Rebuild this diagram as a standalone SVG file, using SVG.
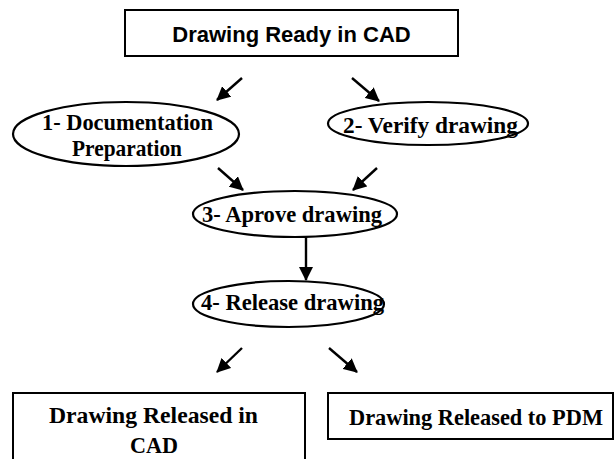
<svg xmlns="http://www.w3.org/2000/svg" width="615" height="459" viewBox="0 0 615 459">
  <style>
    .box { fill: #ffffff; stroke: #000000; stroke-width: 2; }
    .oval { fill: #ffffff; stroke: #000000; stroke-width: 2.2; }
    .sans { font-family: "Liberation Sans", Arial, sans-serif; font-weight: bold; font-size: 22px; fill: #000000; text-anchor: middle; }
    .serif { font-family: "Liberation Serif", "Times New Roman", serif; font-weight: bold; font-size: 23px; fill: #000000; text-anchor: middle; }
    .link { stroke: #000000; stroke-width: 2.4; fill: none; marker-end: url(#head); }
  </style>
  <defs>
    <marker id="head" markerUnits="userSpaceOnUse" markerWidth="16" markerHeight="14" refX="13" refY="7" orient="auto">
      <path d="M0,0 L14,7 L0,14 Z" fill="#000000"/>
    </marker>
  </defs>

  <rect width="615" height="459" fill="#ffffff"/>

  <g id="connectors">
    <line class="link" x1="242" y1="78" x2="217" y2="100"/>
    <line class="link" x1="352" y1="78" x2="379" y2="101"/>
    <line class="link" x1="218" y1="168" x2="243" y2="190"/>
    <line class="link" x1="377" y1="168" x2="353" y2="190"/>
    <line class="link" x1="306" y1="237" x2="306" y2="280"/>
    <line class="link" x1="242" y1="348" x2="217" y2="372"/>
    <line class="link" x1="329" y1="348" x2="357" y2="372"/>
  </g>

  <g id="ready">
    <rect class="box" x="125" y="10" width="333" height="46"/>
    <text class="sans" x="291.5" y="42">Drawing Ready in CAD</text>
  </g>

  <g id="documentation">
    <ellipse class="oval" cx="126" cy="134" rx="113" ry="32"/>
    <text class="serif" x="127.5" y="130" textLength="171" lengthAdjust="spacingAndGlyphs">1- Documentation</text>
    <text class="serif" x="127" y="156" textLength="110" lengthAdjust="spacingAndGlyphs">Preparation</text>
  </g>

  <g id="verify">
    <ellipse class="oval" cx="428" cy="123.5" rx="100" ry="21.5"/>
    <text class="serif" x="430.5" y="133" textLength="175" lengthAdjust="spacingAndGlyphs">2- Verify drawing</text>
  </g>

  <g id="approve">
    <ellipse class="oval" cx="295" cy="214" rx="102" ry="23"/>
    <text class="serif" x="292" y="222" textLength="180" lengthAdjust="spacingAndGlyphs">3- Aprove drawing</text>
  </g>

  <g id="release">
    <ellipse class="oval" cx="288.5" cy="304" rx="95.5" ry="23"/>
    <text class="serif" x="292.5" y="310" textLength="183" lengthAdjust="spacingAndGlyphs">4- Release drawing</text>
  </g>

  <g id="released-cad">
    <rect class="box" x="13" y="393" width="292" height="80"/>
    <text class="serif" x="153.5" y="423" textLength="209" lengthAdjust="spacingAndGlyphs">Drawing Released in</text>
    <text class="serif" x="154" y="453" textLength="48" lengthAdjust="spacingAndGlyphs">CAD</text>
  </g>

  <g id="released-pdm">
    <rect class="box" x="328" y="393" width="285" height="46"/>
    <text class="serif" x="476" y="425" textLength="254" lengthAdjust="spacingAndGlyphs">Drawing Released to PDM</text>
  </g>
</svg>
